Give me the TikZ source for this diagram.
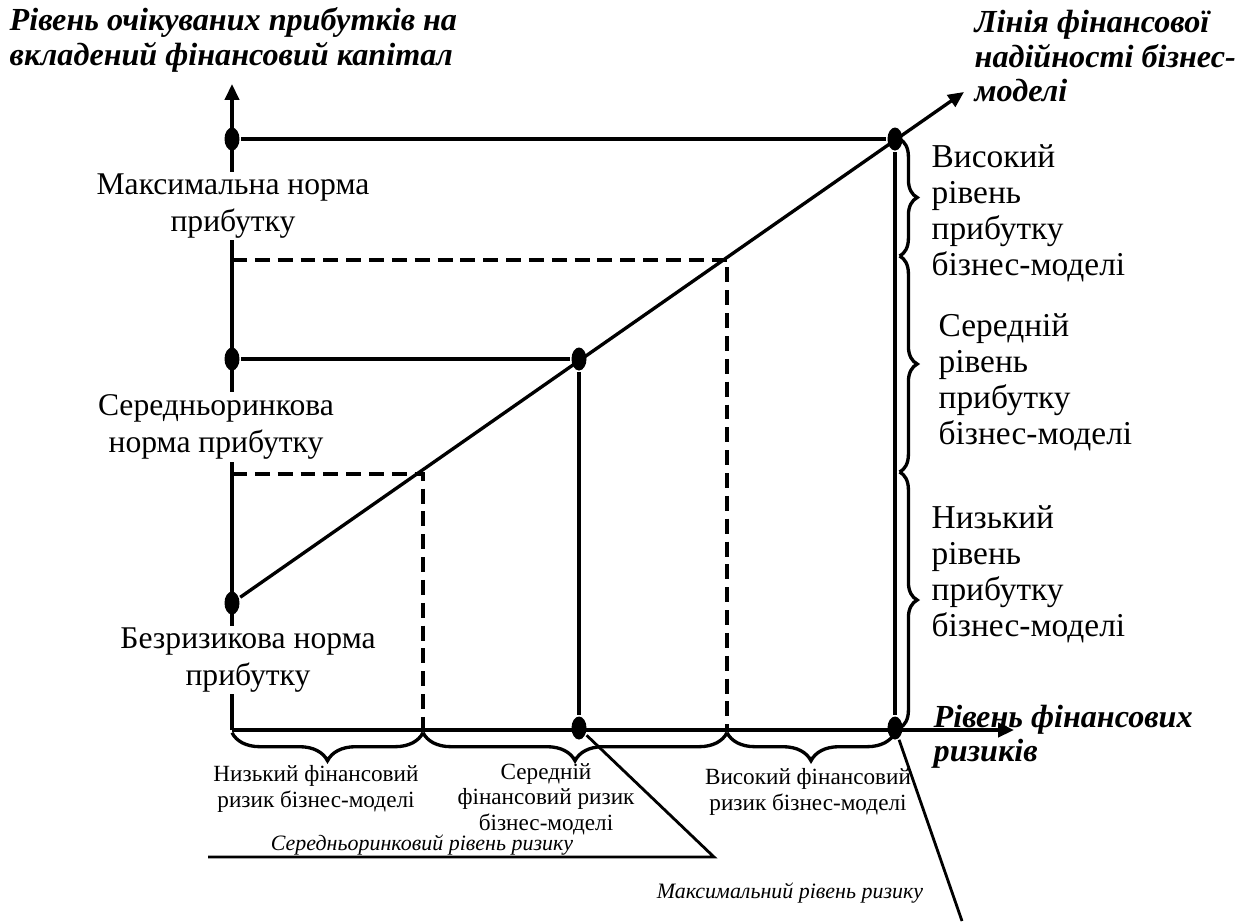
\documentclass[tikz,border=0pt]{standalone}
\usepackage{fontspec}
\setmainfont{Liberation Serif}
\usetikzlibrary{arrows.meta,shapes.geometric,decorations.pathreplacing}

\begin{document}
\begin{tikzpicture}[x=0.02cm, y=-0.02cm, line width=1.9pt,
  dot/.style={ellipse, fill, inner sep=0pt, minimum width=0.3cm, minimum height=0.46cm},
  dashline/.style={dash pattern=on 8.5pt off 4.5pt},
  axisarrow/.style={-{Triangle[length=9pt,width=8pt]}},
  rbrace/.style={decorate, decoration={brace, amplitude=10pt, raise=1.5pt}},
  bbrace/.style={decorate, decoration={brace, amplitude=16pt, raise=1.5pt}},
  level/.style={font=\fontsize{18}{21.5}\selectfont, align=center, fill=white, inner sep=1pt},
  side/.style={font=\fontsize{19}{20.5}\selectfont, align=left, anchor=west, inner sep=0pt},
  risk/.style={font=\fontsize{13.2}{14.6}\selectfont, align=center, inner sep=0pt},
  title/.style={font=\fontsize{18.3}{19.5}\selectfont\bfseries\itshape, align=left, anchor=west, inner sep=0pt},
  note/.style={font=\fontsize{12.5}{15}\selectfont\itshape, inner sep=0pt}]
\useasboundingbox (0,0) rectangle (1248,921);
%\draw [help lines, step=50] (0,0) grid (1248,921);

\coordinate (O) at (232,730);
\coordinate (ytop) at (232,84);
\coordinate (xend) at (1014,730);
\coordinate (lend) at (964,92);
\coordinate (dhi) at (232,260);
\coordinate (dhix) at (727,260);
\coordinate (dhib) at (727,730);
\coordinate (dlo) at (232,474);
\coordinate (dlox) at (423,474);
\coordinate (dlob) at (423,730);
\coordinate (bavg) at (714,857);
\coordinate (bleft) at (208,857);
\coordinate (bmax) at (962,921);

\node [dot] (ymax) at (232,139) {};
\node [dot] (pmax) at (895,139) {};
\node [dot] (ymid) at (232,359) {};
\node [dot] (pmid) at (579,359) {};
\node [dot] (yfree) at (232,603) {};
\node [dot] (xmid) at (579,728) {};
\node [dot] (xmax) at (895,728) {};

\draw [axisarrow] (O) -- (ytop);
\draw [axisarrow] (O) -- (xend);
\draw [axisarrow] (yfree) -- (lend);

\draw (ymax) -- (pmax);
\draw (pmax) -- (xmax);
\draw (ymid) -- (pmid);
\draw (pmid) -- (xmid);

\draw [dashline] (dhi) -- (dhix) -- (dhib);
\draw [dashline] (dlo) -- (dlox) -- (dlob);

\draw [line width=1.6pt] (xmid) -- (bavg) -- (bleft);
\draw [line width=1.6pt] (xmax) -- (bmax);

\draw [rbrace] (897,139) -- (897,256);
\draw [rbrace] (897,256) -- (897,472);
\draw [rbrace] (897,472) -- (897,728);

\draw [bbrace] (423,730) -- (232,730);
\draw [bbrace] (727,730) -- (423,730);
\draw [bbrace] (895,730) -- (727,730);

\node [level] (lmax) at (233,206) {Максимальна норма\\прибутку};
\node [level] (lavg) at (216,427) {Середньоринкова\\норма прибутку};
\node [level] (lfree) at (248,660) {Безризикова норма\\прибутку};

\node [side] (rhigh) at (930,213) {Високий\\рівень\\прибутку\\бізнес-моделі};
\node [side] (rmed) at (937,382) {Середній\\рівень\\прибутку\\бізнес-моделі};
\node [side] (rlow) at (930,574) {Низький\\рівень\\прибутку\\бізнес-моделі};

\node [risk] (klow) at (316,789) {Низький фінансовий\\ризик бізнес-моделі};
\node [risk] (kmed) at (546,799) {Середній\\фінансовий ризик\\бізнес-моделі};
\node [risk] (khigh) at (808,792) {Високий фінансовий\\ризик бізнес-моделі};

\node [note] (navg) at (422,845) {Середньоринковий рівень ризику};
\node [note] (nmax) at (790,893) {Максимальний рівень ризику};

\node [title] (ytitle) at (8,40) {Рівень очікуваних прибутків на\\вкладений фінансовий капітал};
\node [title] (ltitle) at (973,56) {Лінія фінансової\\надійності бізнес-\\моделі};
\node [title] (xtitle) at (932,737) {Рівень фінансових\\ризиків};

\end{tikzpicture}
\end{document}
